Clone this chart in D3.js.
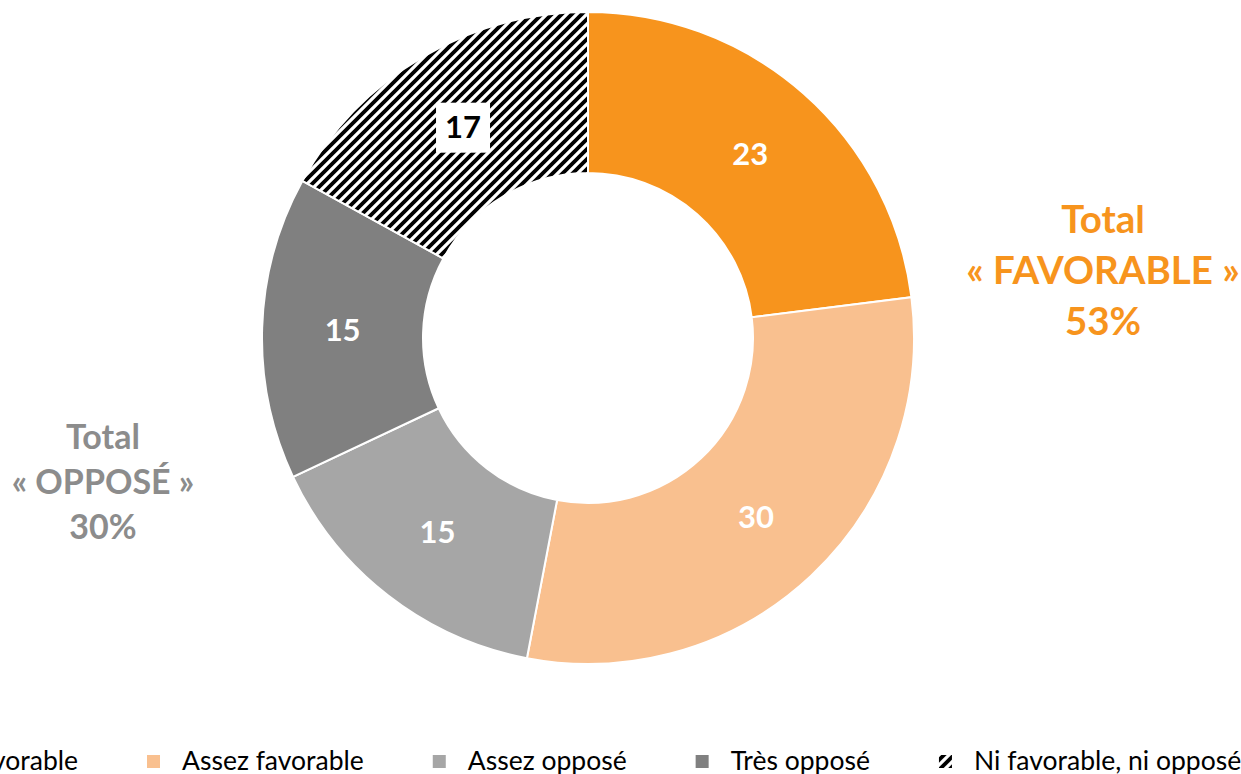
<!DOCTYPE html>
<html>
<head>
<meta charset="utf-8">
<script src="https://cdn.jsdelivr.net/npm/d3@7"></script>
<style>
  html, body { margin: 0; padding: 0; background: #fff; overflow: hidden; }
  svg { display: block; font-family: Lato, "Open Sans", sans-serif; }
</style>
</head>
<body>
<div id="chart"></div>
<script>
// chart values
const categories = ["Très favorable", "Assez favorable", "Assez opposé", "Très opposé", "Ni favorable, ni opposé"];
const values = [23, 30, 15, 15, 17];
const colors = ["#F7941D", "#F9C08F", "#A6A6A6", "#808080", "hatch"];
const labelColors = ["#fff", "#fff", "#fff", "#fff", "#000"];
const totals = [
  { lines: ["Total", "« FAVORABLE »", "53%"], color: "#F7941D" },
  { lines: ["Total", "« OPPOSÉ »", "30%"], color: "#8C8C8C" }
];

const width = 1241, height = 774;
const cx = 588, cy = 338, outerR = 326, innerR = 165;

const svg = d3.select("#chart")
  .append("svg")
  .attr("width", width)
  .attr("height", height);

// diagonal stripes for the last slice
const P = 10;
const defs = svg.append("defs");
const pat = defs.append("pattern")
  .attr("id", "hatch")
  .attr("patternUnits", "userSpaceOnUse")
  .attr("width", P)
  .attr("height", P);
pat.append("rect").attr("width", P).attr("height", P).attr("fill", "#fff");
pat.append("path")
  .attr("d", `M-3,3 L3,-3 M0,${P} L${P},0 M${P - 3},${P + 3} L${P + 3},${P - 3}`)
  .attr("stroke", "#000")
  .attr("stroke-width", 3.8);

const fillOf = i => colors[i] === "hatch" ? "url(#hatch)" : colors[i];

const pie = d3.pie().sort(null).value(d => d)(values);
const arc = d3.arc().innerRadius(innerR).outerRadius(outerR);

const g = svg.append("g").attr("transform", `translate(${cx},${cy})`);

g.selectAll(".slice")
  .data(pie)
  .join("path")
  .attr("class", "slice")
  .attr("d", arc)
  .attr("fill", (d, i) => fillOf(i))
  .attr("stroke", "#fff")
  .attr("stroke-width", 2);

// value labels
const lab = g.selectAll(".lab")
  .data(pie)
  .join("g")
  .attr("class", "lab")
  .attr("transform", d => `translate(${arc.centroid(d)})`);

lab.filter((d, i) => i === 4)
  .append("rect")
  .attr("x", -27).attr("y", -24)
  .attr("width", 54).attr("height", 50)
  .attr("fill", "#fff");

lab.append("text")
  .attr("text-anchor", "middle")
  .attr("dy", "0.36em")
  .attr("font-size", 31)
  .attr("font-weight", "bold")
  .attr("fill", (d, i) => labelColors[i])
  .text(d => d.data);

// totals
const totalPos = [
  { x: 1103, y: 219, size: 38.5, lh: 51 },
  { x: 103, y: 437, size: 34, lh: 45 }
];
totals.forEach((t, k) => {
  const p = totalPos[k];
  const txt = svg.append("text")
    .attr("text-anchor", "middle")
    .attr("font-size", p.size)
    .attr("font-weight", "bold")
    .attr("fill", t.color);
  t.lines.forEach((line, j) => {
    txt.append("tspan")
      .attr("x", p.x)
      .attr("y", p.y + j * p.lh)
      .attr("dy", "0.36em")
      .text(line);
  });
});

// legend (runs off both sides like the original)
const legend = svg.append("g");
const items = legend.selectAll(".item")
  .data(categories)
  .join("g")
  .attr("class", "item");

items.append("rect")
  .attr("width", 13).attr("height", 13)
  .attr("y", 755)
  .attr("fill", (d, i) => fillOf(i));

items.append("text")
  .attr("x", 35)
  .attr("y", 770)
  .attr("font-size", 26.5)
  .attr("fill", "#000")
  .text(d => d);

const widths = [];
items.select("text").each(function () { widths.push(this.getComputedTextLength()); });
let x = 147 - (35 + widths[0] + 69);
items.each(function (d, i) {
  d3.select(this).attr("transform", `translate(${x},0)`);
  x += 35 + widths[i] + 69;
});
</script>
</body>
</html>
